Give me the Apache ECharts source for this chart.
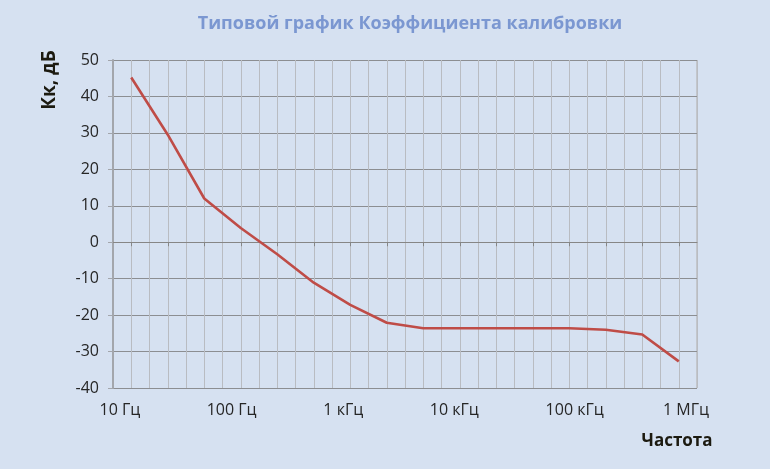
<!DOCTYPE html>
<html>
<head>
<meta charset="utf-8">
<script src="https://cdn.jsdelivr.net/npm/echarts@6/dist/echarts.min.js"></script>
<style>
html,body{margin:0;padding:0;background:#D6E1F1;}
#chart{width:770px;height:469px;}
</style>
</head>
<body>
<div id="chart"></div>
<script>
// Frequency points (evenly spaced categories in the original chart)
const categories = ['10 Гц','20 Гц','50 Гц','100 Гц','200 Гц','500 Гц','1 кГц','2 кГц','5 кГц','10 кГц','20 кГц','50 кГц','100 кГц','200 кГц','500 кГц','1 МГц'];
// Calibration coefficient, dB
const values = [45.2, 29.5, 12, 3.9, -3.3, -11.1, -17.2, -22.1, -23.6, -23.6, -23.6, -23.6, -23.6, -24.0, -25.3, -32.7];
// Axis tick labels and where they sit (in category units)
const tickLabels = ['10 Гц','100 Гц','1 кГц','10 кГц','100 кГц','1 МГц'];
const tickLabelAt = [-0.31, 2.75, 5.81, 8.85, 12.15, 15.2];

const titleText = 'Типовой график Коэффициента калибровки';
const yName = 'Кк, дБ';
const xName = 'Частота';

const FONT = 'Open Sans';
const chart = echarts.init(document.getElementById('chart'));
const catIdx = categories.map((c, i) => i);
const xMin = -0.5, xMax = categories.length - 0.5;

chart.setOption({
  backgroundColor: '#D6E1F1',
  animation: false,
  textStyle: { fontFamily: FONT },
  title: {
    text: titleText,
    left: 405,
    textAlign: 'center',
    top: 10,
    textStyle: { color: '#7B97D1', fontSize: 18, fontWeight: 'bold', fontFamily: FONT }
  },
  grid: { left: 113, top: 60, right: 73, bottom: 81, containLabel: false, outerBoundsMode: 'none' },
  xAxis: [
    {
      type: 'value',
      min: xMin, max: xMax,
      axisLine: { show: true, onZero: true, lineStyle: { color: '#868686', width: 1 } },
      axisTick: { show: true, inside: false, length: 4, customValues: catIdx, lineStyle: { color: '#868686' } },
      axisLabel: { show: false },
      splitLine: { show: false }
    },
    {
      type: 'value',
      position: 'bottom',
      min: xMin, max: xMax, interval: 0.5,
      axisLine: { show: false, onZero: false },
      axisTick: { show: false },
      splitLine: { show: true, lineStyle: { color: '#B9BCC2', width: 1 } },
      axisLabel: {
        show: true,
        customValues: tickLabelAt,
        formatter: v => tickLabels[tickLabelAt.indexOf(v)],
        color: '#262626', fontSize: 16, fontFamily: FONT, margin: 14,
        showMinLabel: true, showMaxLabel: true
      }
    }
  ],
  yAxis: {
    type: 'value',
    min: -40, max: 50, interval: 10,
    axisLine: { show: true, onZero: false, lineStyle: { color: '#A3A6AC', width: 2 } },
    axisTick: { show: true, length: 5, lineStyle: { color: '#A3A6AC' } },
    axisLabel: { color: '#262626', fontSize: 16, fontFamily: FONT, margin: 14 },
    splitLine: { show: true, lineStyle: { color: '#8C8E92', width: 1 } }
  },
  graphic: [
    {
      type: 'text', x: 50, y: 80, rotation: Math.PI / 2,
      style: { text: yName, fill: '#1C1A10', font: 'bold 19px "' + FONT + '"', align: 'center', verticalAlign: 'middle' }
    },
    {
      type: 'text', x: 677, y: 441,
      style: { text: xName, fill: '#1C1A10', font: 'bold 17px "' + FONT + '"', align: 'center', verticalAlign: 'middle' }
    },
    {
      type: 'line', shape: { x1: 697, y1: 60, x2: 697, y2: 388 },
      style: { stroke: '#C3C6CC', lineWidth: 2 }, z: 0
    }
  ],
  series: [{
    type: 'line',
    xAxisIndex: 0,
    data: catIdx.map(i => [i, values[i]]),
    showSymbol: false,
    symbol: 'none',
    lineStyle: { color: '#BF4C47', width: 2.6 },
    z: 5
  }]
});
</script>
</body>
</html>
